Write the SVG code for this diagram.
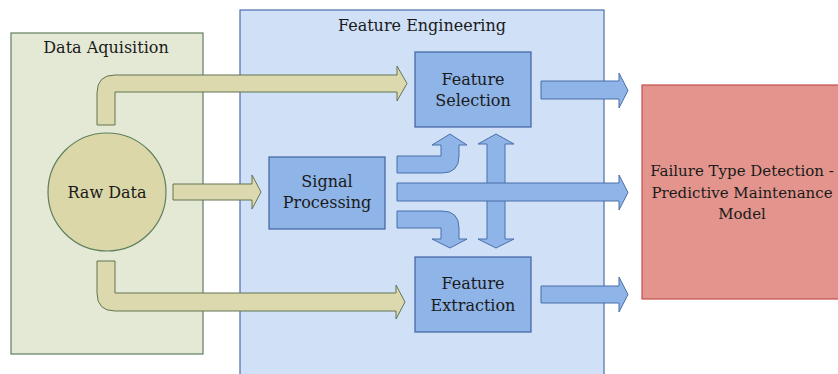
<svg xmlns="http://www.w3.org/2000/svg" width="838" height="374" viewBox="0 0 838 374">
<style>
text{font-family:"DejaVu Serif","Liberation Serif",serif;font-size:16px;fill:#1a1a1a;text-anchor:middle}
.red text{font-size:15px}
.olive{fill:#dcd9ae;stroke:#627552;stroke-width:1}
.blue{fill:#8fb4e8;stroke:#4a6faa;stroke-width:1}
.box{fill:#8eb4e8;stroke:#3e62a0;stroke-width:1.2}
</style>
<rect width="838" height="374" fill="#ffffff"/>
<g id="data-aquisition">
<rect x="11" y="33" width="192" height="321" fill="#e4e9d6" stroke="#5f7f5f" stroke-width="1.2"/>
<text x="106" y="53">Data Aquisition</text>
</g>
<g id="feature-engineering">
<rect x="240" y="10" width="364" height="370" fill="#cfe0f7" stroke="#4b6ea8" stroke-width="1.2"/>
<text x="422" y="31">Feature Engineering</text>
</g>
<g id="raw-data">
<circle cx="107" cy="192" r="59" fill="#dbd7a9" stroke="#5f7f5f" stroke-width="1.2"/>
<text x="107" y="198">Raw Data</text>
</g>
<g id="signal-processing">
<rect class="box" x="269" y="157" width="116" height="72"/>
<text x="327" y="187">Signal</text>
<text x="327" y="208">Processing</text>
</g>
<g id="feature-selection">
<rect class="box" x="415" y="52" width="116" height="75"/>
<text x="473" y="85">Feature</text>
<text x="473" y="106">Selection</text>
</g>
<g id="feature-extraction">
<rect class="box" x="415" y="257" width="116" height="75"/>
<text x="473" y="289">Feature</text>
<text x="473" y="311">Extraction</text>
</g>
<g id="model" class="red">
<rect x="642" y="85" width="210" height="214" fill="#e3958d" stroke="#c0504d" stroke-width="1.2"/>
<text x="742" y="176">Failure Type Detection -</text>
<text x="742" y="198">Predictive Maintenance</text>
<text x="742" y="219">Model</text>
</g>
<g id="connectors">
<path class="olive" d="M97,125 L97,93 Q97,75 115,75 L397,75 L397,66 L407,83.5 L397,101 L397,92 L115,92 L115,125 Z"/>
<path class="olive" d="M97,261 L115,261 L115,293 L396,293 L396,285 L405,302 L396,319 L396,311 L115,311 Q97,311 97,293 Z"/>
<path class="olive" d="M173,184 L252,184 L252,175 L261,192 L252,209 L252,200 L173,200 Z"/>
<path class="blue" d="M541,81 L619,81 L619,73 L628,90.5 L619,108 L619,99 L541,99 Z"/>
<path class="blue" d="M541,286 L619,286 L619,277 L628,294.5 L619,312 L619,303 L541,303 Z"/>
<path class="blue" d="M397,156 L441,156 L441,145 L432,145 L450,134 L467,145 L459,145 L459,156 Q459,173 442,173 L397,173 Z"/>
<path class="blue" d="M397,211 L442,211 Q459,211 459,228 L459,239 L467,239 L450,248 L432,239 L441,239 L441,228 L397,228 Z"/>
<path class="blue" d="M487,144 L478,144 L496,134 L514,144 L505,144 L505,239 L514,239 L496,248 L478,239 L487,239 Z"/>
<path class="blue" d="M397,183 L619,183 L619,175 L628,192.5 L619,210 L619,201 L397,201 Z"/>
</g>
</svg>
